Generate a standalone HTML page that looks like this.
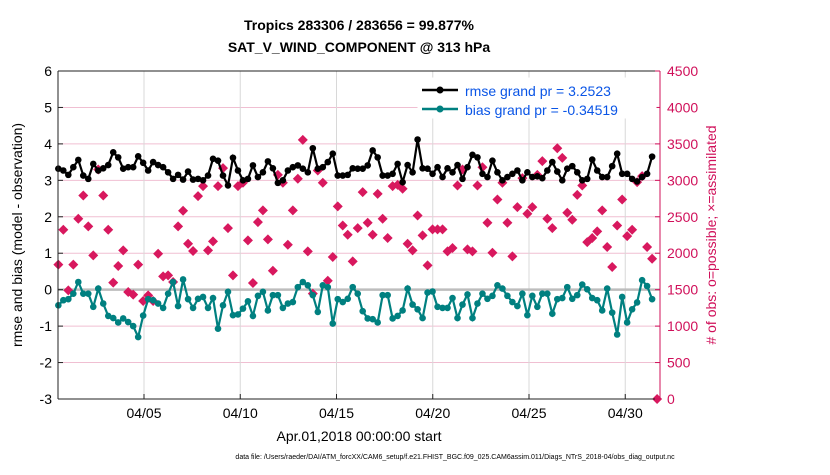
<!DOCTYPE html>
<html><head><meta charset="utf-8"><style>
body{margin:0;background:#fff;font-family:"Liberation Sans",sans-serif;}
svg text{font-family:"Liberation Sans",sans-serif;}
</style></head><body>
<svg id="chart" width="830" height="470" xmlns="http://www.w3.org/2000/svg">
<rect width="830" height="470" fill="#fff"/>
<text x="359" y="30" font-size="14" font-weight="bold" text-anchor="middle">Tropics 283306 / 283656 = 99.877%</text>
<text x="359" y="52" font-size="14" font-weight="bold" text-anchor="middle">SAT_V_WIND_COMPONENT @ 313 hPa</text>
<g id="grid"></g><g id="marks"></g><g id="axes"></g>
<text x="359" y="441" font-size="14" text-anchor="middle">Apr.01,2018 00:00:00 start</text>
<text transform="translate(22,235) rotate(-90)" font-size="14" text-anchor="middle">rmse and bias (model - observation)</text>
<text transform="translate(716,235) rotate(-90)" font-size="14" text-anchor="middle" fill="#d0105a"># of obs: o=possible; ×=assimilated</text>
<text x="455" y="459" font-size="7" text-anchor="middle">data file: /Users/raeder/DAI/ATM_forcXX/CAM6_setup/f.e21.FHIST_BGC.f09_025.CAM6assim.011/Diags_NTrS_2018-04/obs_diag_output.nc</text>
<g>
<rect x="418" y="78" width="238" height="40" fill="#fff" stroke="#fff"/>
<line x1="422" y1="90" x2="458" y2="90" stroke="#000" stroke-width="2.5"/>
<circle cx="440" cy="90" r="3.5" fill="#000"/>
<text x="465" y="96" font-size="14" fill="#0a55e6">rmse grand pr = 3.2523</text>
<line x1="422" y1="109" x2="458" y2="109" stroke="#008080" stroke-width="2.5"/>
<circle cx="440" cy="109" r="3.5" fill="#008080"/>
<text x="465" y="115" font-size="14" fill="#0a55e6">bias grand pr = -0.34519</text>
</g>
</svg>
<script>
const rmse=[3.32,3.27,3.15,3.36,3.56,3.13,3.04,3.45,3.27,3.33,3.42,3.77,3.63,3.32,3.36,3.36,3.66,3.48,3.27,3.5,3.42,3.36,3.22,3.04,3.15,3.02,3.24,3.02,3.04,3.0,3.13,
3.59,3.54,3.13,2.86,3.62,3.27,3.0,3.04,3.41,3.09,3.22,3.52,3.33,2.93,3.0,3.27,3.36,3.41,3.32,3.22,3.88,3.32,3.36,3.5,3.73,3.13,3.13,3.15,3.33,3.32,
3.32,3.41,3.82,3.63,3.13,3.13,3.18,3.45,2.95,3.42,3.22,4.12,3.33,3.32,3.18,3.36,3.09,3.33,3.22,3.42,3.04,3.36,3.7,3.63,3.18,3.09,3.54,3.22,3.0,3.09,
3.18,3.27,3.0,3.22,3.09,3.11,3.06,3.27,3.5,3.24,3.0,3.32,3.39,3.22,3.0,3.04,3.57,3.27,3.09,3.09,3.39,3.73,3.18,3.18,3.04,2.97,3.09,3.18,3.65];
const bias=[-0.43,-0.29,-0.26,-0.11,0.21,-0.11,-0.11,-0.47,0.03,-0.38,-0.72,-0.78,-0.9,-0.79,-0.89,-1.0,-1.3,-0.71,-0.26,-0.29,-0.38,-0.5,-0.11,0.21,-0.45,0.28,-0.26,-0.5,-0.25,-0.2,-0.5,
-0.23,-1.07,-0.43,-0.06,-0.7,-0.68,-0.52,-0.32,-0.72,-0.17,-0.06,-0.57,-0.15,-0.15,-0.5,-0.38,-0.34,0.07,0.21,0.12,-0.15,-0.61,0.12,0.07,-0.93,-0.26,-0.34,-0.25,0.07,-0.11,
-0.59,-0.79,-0.81,-0.9,-0.15,-0.15,-0.79,-0.72,-0.57,0.03,-0.41,-0.54,-0.78,-0.08,-0.05,-0.47,-0.5,-0.5,-0.23,-0.78,-0.41,-0.13,-0.78,-0.38,-0.11,-0.25,-0.17,0.12,0.03,-0.17,
-0.34,-0.45,-0.11,-0.7,-0.17,-0.47,-0.11,-0.11,-0.66,-0.26,-0.23,0.07,-0.25,-0.15,0.14,0.01,-0.23,-0.29,-0.57,0.03,-0.63,-1.23,-0.2,-0.9,-0.54,-0.35,0.26,0.1,-0.26];
const nobs=[1843,2322,1491,1843,2473,2792,2368,1970,3148,2792,2322,1596,1824,2039,1468,1432,1843,1345,1422,1345,1993,1683,1696,1605,2368,2582,2130,2030,2783,2920,2039,
2162,2920,3167,2345,1696,2920,2966,2176,1591,2427,2587,2190,1760,3075,2966,2117,2587,3021,3555,2025,1445,3135,2966,1623,1948,2642,2381,2253,1888,2345,
2838,2418,2253,2815,2473,2208,2920,2938,2884,2130,2039,2518,2244,1833,2327,2327,2327,2025,2071,2929,3148,2053,2025,2929,3180,2418,2007,2737,2966,2418,
1957,2632,3030,2541,2632,3075,3263,2473,2345,3441,3308,2555,2459,2801,2929,2153,2208,2299,2587,2085,1811,2381,2737,2235,2322,2975,3057,2085,1925,0];
const leftTicks=[-3,-2,-1,0,1,2,3,4,5,6];
const rightTicks=[0,500,1000,1500,2000,2500,3000,3500,4000,4500];
const dateTicks=[4,9,14,19,24,29];
const dateLabels=["04/05","04/10","04/15","04/20","04/25","04/30"];
const t0=-0.45, dt=0.2592;
const L=58,R=660,T=71,B=399;
const X=d=>67+d*19.25;
const Y=v=>B-(v+3)/9*(B-T);
const YR=n=>B-n/4500*(B-T);
const NS="http://www.w3.org/2000/svg";
function mk(par,tag,at){const e=document.createElementNS(NS,tag);for(const k in at)e.setAttribute(k,at[k]);document.getElementById(par).appendChild(e);return e;}
leftTicks.forEach(v=>{const e=mk('grid','line',{x1:L,x2:R,y1:Y(v),y2:Y(v),stroke:'#f0bfd2','stroke-width':1});

});
dateTicks.forEach(d=>{const e=mk('grid','line',{x1:X(d),x2:X(d),y1:T,y2:B,stroke:'#d8d8d8','stroke-width':1});

});
const z=mk('grid','line',{x1:L,x2:R,y1:Y(0),y2:Y(0),stroke:'#bdbdbd','stroke-width':2.5});


nobs.forEach((n,i)=>{const x=X(t0+i*dt),y=YR(n);const e=mk('marks','path',{d:`M${x-5},${y}L${x},${y-5}L${x+5},${y}L${x},${y+5}Z`,fill:'#d8185e'});

});
function series(arr,col,name){const p=arr.map((v,i)=>`${X(t0+i*dt).toFixed(1)},${Y(v).toFixed(1)}`).join(' ');
const l=mk('marks','polyline',{points:p,fill:'none',stroke:col,'stroke-width':2.2});


arr.forEach((v,i)=>{const c=mk('marks','circle',{cx:X(t0+i*dt),cy:Y(v),r:3.3,fill:col});

});}
series(bias,'#008080','bias');
series(rmse,'#000','rmse');
const ax=[[L,T,L,B,'#222'],[L,B,R,B,'#222'],[L,T,R,T,'#222'],[R,T,R,B,'#d0105a']];
ax.forEach(a=>{const e=mk('axes','line',{x1:a[0],y1:a[1],x2:a[2],y2:a[3],stroke:a[4],'stroke-width':1});

});
leftTicks.forEach(v=>{mk('axes','line',{x1:L,x2:L+5,y1:Y(v),y2:Y(v),stroke:'#222'});
const t=mk('axes','text',{x:L-6,y:Y(v)+5,'font-size':14,'text-anchor':'end'});t.textContent=v;

});
rightTicks.forEach(n=>{mk('axes','line',{x1:R-5,x2:R,y1:YR(n),y2:YR(n),stroke:'#d0105a'});
const t=mk('axes','text',{x:R+7,y:YR(n)+5,'font-size':14,fill:'#d0105a'});t.textContent=n;

});
dateTicks.forEach((d,i)=>{mk('axes','line',{x1:X(d),x2:X(d),y1:B,y2:B-5,stroke:'#222'});
const t=mk('axes','text',{x:X(d),y:B+19,'font-size':14,'text-anchor':'middle'});t.textContent=dateLabels[i];

});
</script>
</body></html>
